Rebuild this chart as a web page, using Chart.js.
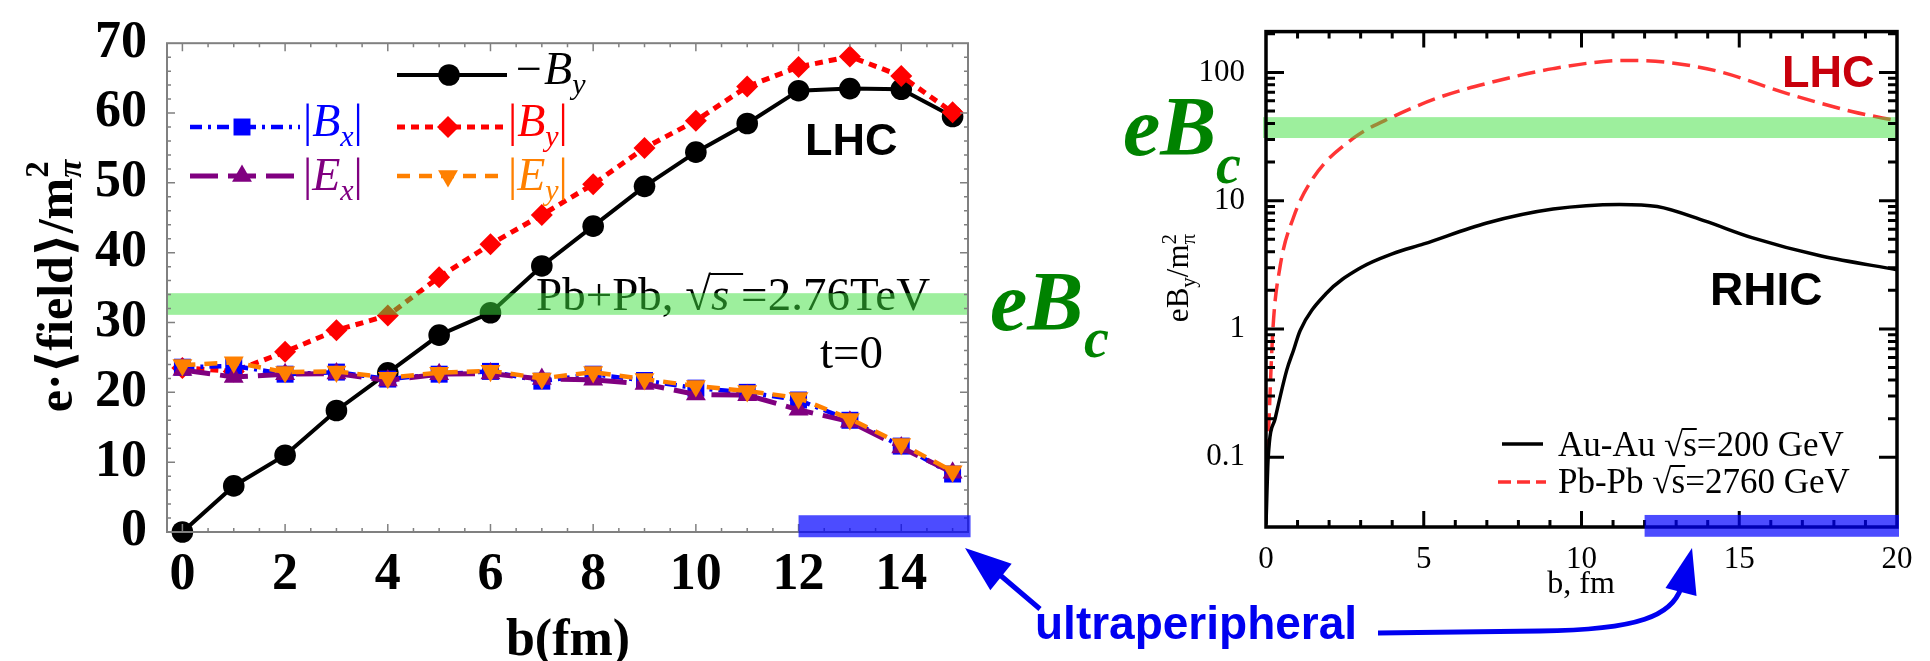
<!DOCTYPE html>
<html>
<head>
<meta charset="utf-8">
<script src="https://cdn.jsdelivr.net/npm/chart.js@4.4.1/dist/chart.umd.min.js"></script>
<style>
  html, body { margin: 0; padding: 0; background: #fff; }
  body { width: 1930px; height: 661px; position: relative; overflow: hidden; }
  canvas { position: absolute; top: 0; }
  #left { left: 0; }
  #right { left: 950px; }
</style>
</head>
<body>
<canvas id="left" width="980" height="661"></canvas>
<canvas id="right" width="980" height="661"></canvas>
<script>
// --- left panel: field components vs impact parameter (Pb+Pb, t=0) ---
const bLeft   = [0, 1, 2, 3, 4, 5, 6, 7, 8, 9, 10, 11, 12, 13, 14, 15];
const minusBy = [0, 6.6, 11.0, 17.4, 22.8, 28.2, 31.4, 38.1, 43.8, 49.5, 54.4, 58.5, 63.2, 63.5, 63.4, 59.5];
const absBy   = [23.5, 23.0, 25.8, 28.9, 31.0, 36.5, 41.2, 45.4, 49.8, 55.0, 58.9, 63.8, 66.6, 68.1, 65.3, 60.1];
const absBx   = [23.6, 23.8, 22.6, 22.9, 21.9, 22.6, 23.0, 21.6, 22.6, 21.7, 20.6, 20.0, 18.9, 16.0, 12.3, 8.3];
const absEx   = [23.2, 22.2, 22.6, 22.7, 21.7, 22.6, 22.7, 21.9, 21.8, 21.2, 19.7, 19.6, 17.5, 15.8, 12.1, 8.5];
const absEy   = [23.9, 24.3, 22.9, 23.0, 22.1, 22.8, 23.1, 22.0, 22.9, 21.9, 20.9, 20.2, 19.2, 16.2, 12.6, 8.7];
const leftXTicks = [0, 2, 4, 6, 8, 10, 12, 14];
const leftYTicks = [0, 10, 20, 30, 40, 50, 60, 70];
const eBcLeft = [31.1, 34.2];          // critical field band
const upcLeft = [12, 15.35, -0.75, 2.4]; // ultraperipheral range: b0, b1, y0, y1

// --- right panel: eB_y / m_pi^2 at RHIC and LHC (log scale) ---
const bAuAu   = [0, 0.07, 0.29, 0.66, 0.87, 1.08, 1.9, 3.0, 4.0, 5.0, 7.0, 9.1, 11.2, 12.4, 13.9, 15.4, 17.6, 20];
const eByAuAu = [0.03, 0.1, 0.2, 0.48, 0.68, 0.97, 1.88, 3.0, 3.85, 4.6, 6.7, 8.6, 9.35, 9.0, 6.95, 5.15, 3.7, 2.9];
const bPbPb   = [0.05, 0.22, 0.44, 0.87, 1.5, 2.77, 4.04, 5.5, 7.0, 9.1, 11.4, 12.8, 14.4, 16.5, 18.6, 20];
const eByPbPb = [0.1, 1.0, 3.0, 7.4, 15.1, 30.7, 45.3, 64, 82, 107, 124, 119, 101, 68.6, 49.4, 41.9];
const rightXTicks = [0, 5, 10, 15, 20];
const rightYTicks = [0.1, 1, 10, 100];
const eBcRight = [30.8, 44.8];
const upcRight = [12, 20, 0.024, 0.0355];

const SERIF = '"Liberation Serif", "Times New Roman", "DejaVu Serif", serif';
const SANS = '"Liberation Sans", Arial, sans-serif';
const OFF = 950; // page x of the right canvas
const BAND = 'rgba(60,224,60,0.5)';

const f = (size, style = '') => `${style} ${size}px ${SERIF}`;

// draw a run of text pieces (sub/superscripts, overlines); returns width
function rich(ctx, x, y, parts, dry) {
  let cx = x, lastX = x;
  for (const p of parts) {
    ctx.font = p.font;
    const w = ctx.measureText(p.t).width;
    const px = p.stack ? lastX : cx;
    if (!dry) {
      ctx.fillStyle = p.color || '#000';
      ctx.fillText(p.t, px, y + (p.dy || 0));
      if (p.over) {
        ctx.strokeStyle = p.color || '#000';
        ctx.lineWidth = p.overW || 2;
        ctx.setLineDash([]);
        ctx.beginPath();
        ctx.moveTo(px - 1, y - p.over);
        ctx.lineTo(px + w + (p.overExtra || 0), y - p.over);
        ctx.stroke();
      }
    }
    if (!p.stack) { lastX = px; cx = px + w; } else { cx = Math.max(cx, px + w); }
  }
  return cx - x;
}

function marker(ctx, kind, x, y, r, color) {
  ctx.save();
  ctx.setLineDash([]);
  ctx.fillStyle = color;
  ctx.beginPath();
  if (kind === 'circle') {
    ctx.arc(x, y, r, 0, Math.PI * 2);
  } else if (kind === 'rect') {
    const s = r * Math.SQRT1_2;
    ctx.rect(x - s, y - s, 2 * s, 2 * s);
  } else if (kind === 'rectRot') {
    ctx.moveTo(x, y - r); ctx.lineTo(x + r, y); ctx.lineTo(x, y + r); ctx.lineTo(x - r, y);
  } else {
    const d = kind === 'down' ? -1 : 1;
    ctx.moveTo(x, y - d * r);
    ctx.lineTo(x + 0.866 * r, y + d * 0.5 * r);
    ctx.lineTo(x - 0.866 * r, y + d * 0.5 * r);
  }
  ctx.closePath();
  ctx.fill();
  ctx.restore();
}

function segment(ctx, x0, x1, y, color, width, dash) {
  ctx.save();
  ctx.strokeStyle = color;
  ctx.lineWidth = width;
  ctx.setLineDash(dash);
  ctx.beginPath();
  ctx.moveTo(x0, y);
  ctx.lineTo(x1, y);
  ctx.stroke();
  ctx.restore();
}

// series styles, first entry is drawn on top
const leftSeries = [
  { name: 'Ey', values: absEy, color: '#ff8000', width: 4.5, dash: [13, 9], point: 'triangle', rot: 180, r: 11.5, key: 'down' },
  { name: 'Ex', values: absEx, color: '#800080', width: 5, dash: [28, 10], point: 'triangle', rot: 0, r: 11.5, key: 'up' },
  { name: 'Bx', values: absBx, color: '#0000ff', width: 4.5, dash: [12, 6, 3, 6], point: 'rect', rot: 0, r: 12, key: 'rect' },
  { name: 'By', values: absBy, color: '#ff0000', width: 5, dash: [8, 6], point: 'rectRot', rot: 0, r: 11, key: 'rectRot' },
  { name: '-By', values: minusBy, color: '#000000', width: 4, dash: [], point: 'circle', rot: 0, r: 10.8, key: 'circle' }
];
const styleOf = n => leftSeries.find(s => s.name === n);

const leftDecor = {
  id: 'leftDecor',
  afterDatasetsDraw(chart) {
    const { ctx, chartArea: a, scales: { x, y } } = chart;
    ctx.save();
    // labels sitting under the band
    ctx.fillStyle = '#000';
    ctx.font = `bold 45px ${SANS}`;
    ctx.fillText('LHC', 805, 155);
    ctx.font = f(47);
    ctx.fillText('t=0', 820, 368);
    rich(ctx, 536, 310, [
      { t: 'Pb+Pb, ', font: f(47) },
      { t: '√', font: f(47) },
      { t: 's ', font: f(47, 'italic'), over: 36, overExtra: 2 },
      { t: '=2.76TeV', font: f(47) }
    ]);
    // eB_c band
    ctx.fillStyle = BAND;
    const g0 = y.getPixelForValue(eBcLeft[1]), g1 = y.getPixelForValue(eBcLeft[0]);
    ctx.fillRect(a.left, g0, a.right - a.left + 1, g1 - g0);
    // frame with inward ticks
    ctx.strokeStyle = '#808080';
    ctx.lineWidth = 2;
    ctx.strokeRect(a.left, a.top, a.right - a.left, a.bottom - a.top);
    ctx.lineWidth = 1.5;
    ctx.beginPath();
    for (let v = 2; v < 70; v += 2) {
      const py = y.getPixelForValue(v), len = v % 10 ? 4 : 8;
      ctx.moveTo(a.left, py); ctx.lineTo(a.left + len, py);
      ctx.moveTo(a.right, py); ctx.lineTo(a.right - len, py);
    }
    for (let v = 0; v <= 15; v += 0.5) {
      const px = x.getPixelForValue(v), len = v % 2 ? 4 : 8;
      ctx.moveTo(px, a.bottom); ctx.lineTo(px, a.bottom - len);
      ctx.moveTo(px, a.top); ctx.lineTo(px, a.top + len);
    }
    ctx.stroke();
    // ultraperipheral range
    ctx.fillStyle = 'rgba(0,0,255,0.7)';
    const u0 = x.getPixelForValue(upcLeft[0]), u1 = x.getPixelForValue(upcLeft[1]);
    const v0 = y.getPixelForValue(upcLeft[3]), v1 = y.getPixelForValue(upcLeft[2]);
    ctx.fillRect(u0, v0, u1 - u0, v1 - v0);
    ctx.restore();
  },
  afterDraw(chart) {
    const { ctx } = chart;
    ctx.save();
    // legend
    const big = f(46, 'italic'), bar = f(46), sub = s => ({ t: s, font: f(30, 'italic'), dy: 10 });
    const rows = [
      { s: '-By', x0: 397, x1: 507, y: 75, tx: 513, ty: 84, txt: [{ t: '−B', font: big }, sub('y')] },
      { s: 'Bx', x0: 190, x1: 300, y: 127, tx: 303, ty: 136, txt: [{ t: '|', font: bar }, { t: 'B', font: big }, sub('x'), { t: '|', font: bar }] },
      { s: 'By', x0: 397, x1: 505, y: 127, tx: 508, ty: 136, txt: [{ t: '|', font: bar }, { t: 'B', font: big }, sub('y'), { t: '|', font: bar }] },
      { s: 'Ex', x0: 190, x1: 300, y: 176, tx: 303, ty: 190, txt: [{ t: '|', font: bar }, { t: 'E', font: big }, sub('x'), { t: '|', font: bar }] },
      { s: 'Ey', x0: 397, x1: 505, y: 176, tx: 508, ty: 190, txt: [{ t: '|', font: bar }, { t: 'E', font: big }, sub('y'), { t: '|', font: bar }] }
    ];
    for (const r of rows) {
      const st = styleOf(r.s);
      segment(ctx, r.x0, r.x1, r.y, st.color, st.width, st.dash);
      marker(ctx, st.key, (r.x0 + r.x1) / 2 - 3, r.y, st.r, st.color);
      rich(ctx, r.tx, r.ty, r.txt.map(p => ({ ...p, color: st.color })));
    }
    // axis titles
    ctx.fillStyle = '#000';
    ctx.font = f(52, 'bold');
    ctx.textAlign = 'center';
    ctx.fillText('b(fm)', 568, 655);
    ctx.textAlign = 'left';
    const title = [
      { t: 'e·⟨field⟩/m', font: f(50, 'bold') },
      { t: 'π', font: f(33, 'italic bold'), dy: 9 },
      { t: '2', font: f(33, 'bold'), dy: -24, stack: true }
    ];
    const w = rich(ctx, 0, 0, title, true);
    ctx.translate(72, 286 + w / 2);
    ctx.rotate(-Math.PI / 2);
    rich(ctx, 0, 0, title);
    ctx.restore();
  }
};

const rightDecor = {
  id: 'rightDecor',
  afterDatasetsDraw(chart) {
    const { ctx, chartArea: a, scales: { x, y } } = chart;
    ctx.save();
    ctx.fillStyle = BAND;
    const g0 = y.getPixelForValue(eBcRight[1]), g1 = y.getPixelForValue(eBcRight[0]);
    ctx.fillRect(a.left - 3, g0, a.right - a.left + 4, g1 - g0);
    // frame and ticks
    ctx.strokeStyle = '#000';
    ctx.lineWidth = 3.5;
    ctx.strokeRect(a.left, a.top, a.right - a.left, a.bottom - a.top);
    ctx.lineWidth = 3;
    ctx.beginPath();
    for (let v = 1; v < 20; v++) {
      const px = x.getPixelForValue(v), len = v % 5 ? 7 : 16;
      ctx.moveTo(px, a.bottom); ctx.lineTo(px, a.bottom - len);
      ctx.moveTo(px, a.top); ctx.lineTo(px, a.top + len);
    }
    for (const d of rightYTicks) {
      for (let k = 1; k < 10; k++) {
        const v = d * k;
        if (v > y.max) break;
        const py = y.getPixelForValue(v), len = k === 1 ? 18 : 9;
        ctx.moveTo(a.left, py); ctx.lineTo(a.left + len, py);
        ctx.moveTo(a.right, py); ctx.lineTo(a.right - len, py);
      }
    }
    ctx.stroke();
    ctx.fillStyle = 'rgba(0,0,255,0.7)';
    const u0 = x.getPixelForValue(upcRight[0]), u1 = x.getPixelForValue(upcRight[1]);
    const v0 = y.getPixelForValue(upcRight[3]), v1 = y.getPixelForValue(upcRight[2]);
    ctx.fillRect(u0, v0, u1 - u0 + 2, v1 - v0);
    ctx.restore();
  },
  afterDraw(chart) {
    const { ctx } = chart;
    ctx.save();
    ctx.translate(-OFF, 0);
    // curve labels
    ctx.font = `bold 45px ${SANS}`;
    ctx.fillStyle = '#c8000c';
    ctx.fillText('LHC', 1782, 87);
    ctx.fillStyle = '#000';
    ctx.font = `bold 46px ${SANS}`;
    ctx.fillText('RHIC', 1710, 305);
    // legend
    segment(ctx, 1502, 1543, 444, '#000', 3.5, []);
    segment(ctx, 1498, 1546, 482, '#ff3030', 3.5, [13, 6]);
    rich(ctx, 1558, 456, [
      { t: 'Au-Au ', font: f(35) }, { t: '√', font: f(35) },
      { t: 's', font: f(35), over: 27 }, { t: '=200 GeV', font: f(35) }
    ]);
    rich(ctx, 1558, 493, [
      { t: 'Pb-Pb ', font: f(35) }, { t: '√', font: f(35) },
      { t: 's', font: f(35), over: 27 }, { t: '=2760 GeV', font: f(35) }
    ]);
    // axis titles
    ctx.font = f(32);
    ctx.textAlign = 'center';
    ctx.fillText('b, fm', 1581, 593);
    ctx.textAlign = 'left';
    const title = [
      { t: 'eB', font: f(31) }, { t: 'y', font: f(21), dy: 7 },
      { t: '/m', font: f(31) }, { t: 'π', font: f(21), dy: 7 },
      { t: '2', font: f(21), dy: -12, stack: true }
    ];
    const w = rich(ctx, 0, 0, title, true);
    ctx.save();
    ctx.translate(1188, 278 + w / 2);
    ctx.rotate(-Math.PI / 2);
    rich(ctx, 0, 0, title);
    ctx.restore();

    // critical field labels
    const green = '#008200';
    rich(ctx, 990, 330, [{ t: 'eB', font: f(84, 'italic bold'), color: green }]);
    rich(ctx, 1084, 357, [{ t: 'c', font: f(56, 'italic bold'), color: green }]);
    rich(ctx, 1123, 155, [{ t: 'eB', font: f(84, 'italic bold'), color: green }]);
    rich(ctx, 1216, 183, [{ t: 'c', font: f(56, 'italic bold'), color: green }]);

    // ultraperipheral label and arrows
    const blue = '#0000f0';
    ctx.fillStyle = blue;
    ctx.font = `bold 46px ${SANS}`;
    ctx.fillText('ultraperipheral', 1035, 639);
    ctx.strokeStyle = blue;
    ctx.lineWidth = 5;
    ctx.lineCap = 'butt';
    ctx.beginPath();
    ctx.moveTo(1040, 609);
    ctx.lineTo(1000, 575);
    ctx.moveTo(1378, 633);
    ctx.lineTo(1540, 631);
    ctx.bezierCurveTo(1640, 630, 1672, 615, 1681, 588);
    ctx.stroke();
    const head = (tx, ty, bx, by, half) => {
      const dx = bx - tx, dy = by - ty, n = Math.hypot(dx, dy);
      const px = -dy / n * half, py = dx / n * half;
      ctx.beginPath();
      ctx.moveTo(tx, ty);
      ctx.lineTo(bx + px, by + py);
      ctx.lineTo(bx - px, by - py);
      ctx.closePath();
      ctx.fill();
    };
    head(965, 548, 1001, 577, 17);
    head(1692, 548, 1681, 592, 16);
    ctx.restore();
  }
};

new Chart(document.getElementById('left'), {
  type: 'line',
  data: {
    datasets: leftSeries.map(s => ({
      label: s.name,
      data: s.values.map((v, i) => ({ x: bLeft[i], y: v })),
      borderColor: s.color,
      backgroundColor: s.color,
      borderWidth: s.width,
      borderDash: s.dash,
      pointStyle: s.point,
      pointRotation: s.rot,
      pointRadius: s.r,
      pointBorderWidth: 0,
      pointBackgroundColor: s.color,
      pointBorderColor: s.color,
      tension: 0,
      fill: false,
      clip: false
    }))
  },
  options: {
    responsive: false,
    animation: false,
    devicePixelRatio: 1,
    layout: { padding: { left: 0, top: 33, right: 8, bottom: 0 } },
    plugins: { legend: { display: false }, tooltip: { enabled: false } },
    scales: {
      x: {
        type: 'linear', min: -0.3, max: 15.3,
        grid: { display: false }, border: { display: false },
        afterBuildTicks: s => { s.ticks = leftXTicks.map(v => ({ value: v })); },
        afterFit: s => { s.height = 129; },
        ticks: { font: { family: SERIF, size: 52, weight: 'bold' }, color: '#000', padding: 4, maxRotation: 0, autoSkip: false }
      },
      y: {
        type: 'linear', min: 0, max: 70,
        grid: { display: false }, border: { display: false },
        afterBuildTicks: s => { s.ticks = leftYTicks.map(v => ({ value: v })); },
        afterFit: s => { s.width = 167; },
        ticks: { font: { family: SERIF, size: 52, weight: 'bold' }, color: '#000', padding: 12, autoSkip: false }
      }
    }
  },
  plugins: [leftDecor]
});

new Chart(document.getElementById('right'), {
  type: 'line',
  data: {
    datasets: [
      {
        label: 'Au-Au',
        data: bAuAu.map((b, i) => ({ x: b, y: eByAuAu[i] })),
        borderColor: '#000', borderWidth: 3.5, pointRadius: 0,
        cubicInterpolationMode: 'monotone', fill: false
      },
      {
        label: 'Pb-Pb',
        data: bPbPb.map((b, i) => ({ x: b, y: eByPbPb[i] })),
        borderColor: '#ff3535', borderWidth: 3.5, borderDash: [18, 8], pointRadius: 0,
        cubicInterpolationMode: 'monotone', fill: false
      }
    ]
  },
  options: {
    responsive: false,
    animation: false,
    devicePixelRatio: 1,
    layout: { padding: { left: 0, top: 29, right: 33, bottom: 0 } },
    plugins: { legend: { display: false }, tooltip: { enabled: false } },
    scales: {
      x: {
        type: 'linear', min: 0, max: 20,
        grid: { display: false }, border: { display: false },
        afterBuildTicks: s => { s.ticks = rightXTicks.map(v => ({ value: v })); },
        afterFit: s => { s.height = 134; },
        ticks: { font: { family: SERIF, size: 31 }, color: '#000', padding: 6, maxRotation: 0, autoSkip: false }
      },
      y: {
        type: 'logarithmic', min: 0.0286, max: 208,
        grid: { display: false }, border: { display: false },
        afterBuildTicks: s => { s.ticks = rightYTicks.map(v => ({ value: v })); },
        afterFit: s => { s.width = 316; },
        ticks: { font: { family: SERIF, size: 31 }, color: '#000', padding: 13, autoSkip: false, callback: v => String(v) }
      }
    }
  },
  plugins: [rightDecor]
});
</script>
</body>
</html>
